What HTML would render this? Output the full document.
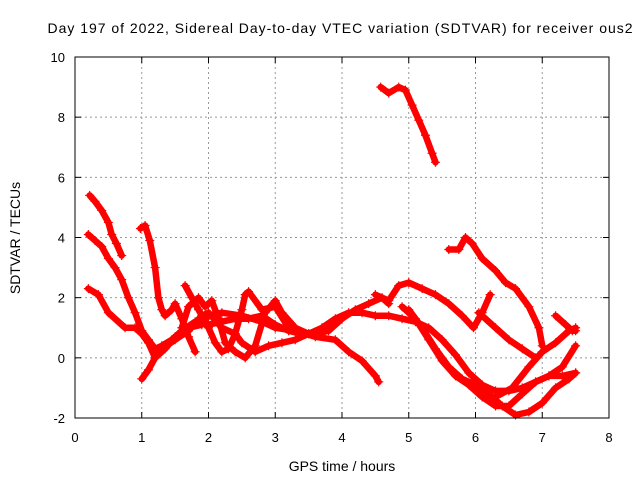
<!DOCTYPE html>
<html><head><meta charset="utf-8"><style>
body{margin:0;background:#fff}
svg{display:block;font-family:"Liberation Sans",sans-serif}
</style></head><body>
<svg id="c" width="640" height="480" xmlns="http://www.w3.org/2000/svg">
<text x="340" y="33" text-anchor="middle" font-size="14" textLength="585">Day 197 of 2022, Sidereal Day-to-day VTEC variation (SDTVAR) for receiver ous2</text>
<text x="342" y="471" text-anchor="middle" font-size="14">GPS time / hours</text>
<text transform="translate(20,238) rotate(-90)" text-anchor="middle" font-size="14">SDTVAR / TECUs</text>
<g id="grid"></g>
<g id="ticks"></g>
<g id="series"></g>
<rect x="75" y="57" width="534" height="361" fill="none" stroke="#000"/>
</svg>
<script>
const xTicks=[0,1,2,3,4,5,6,7,8];
const yTicks=[-2,0,2,4,6,8,10];
const trackA=[[0.22,5.4],[0.3,5.2],[0.4,4.9],[0.5,4.5],[0.55,4.1],[0.62,3.8],[0.7,3.4]];
const trackB=[[0.2,4.1],[0.3,3.9],[0.4,3.7],[0.5,3.3],[0.6,3.0],[0.7,2.6],[0.8,2.0],[0.9,1.5],[1.0,0.9],[1.1,0.6],[1.2,0.3],[1.3,0.4],[1.45,0.6],[1.6,0.9],[1.8,1.2],[2.0,1.1],[2.2,1.2],[2.4,1.3],[2.6,1.3],[2.8,1.4],[3.0,1.1],[3.2,0.9],[3.4,0.8],[3.6,0.8],[3.8,0.9],[4.0,1.3],[4.2,1.6],[4.4,1.8],[4.6,2.0],[4.7,1.8]];
const trackC=[[0.2,2.3],[0.35,2.1],[0.5,1.5],[0.75,1.0],[0.9,1.0],[1.0,0.8],[1.1,0.5],[1.2,0.0],[1.35,0.3],[1.5,0.7],[1.7,1.0],[1.9,1.1],[2.0,1.4],[2.2,1.5],[2.5,1.4],[2.8,1.2],[3.0,1.0],[3.3,0.9],[3.6,0.7],[3.9,0.6],[4.1,0.2],[4.3,-0.1],[4.5,-0.6],[4.55,-0.8]];
const trackD=[[0.98,4.3],[1.05,4.4],[1.12,3.9],[1.2,3.0],[1.25,2.0],[1.3,1.6],[1.35,1.4],[1.45,1.6],[1.5,1.8],[1.6,1.3],[1.7,0.7],[1.8,0.2]];
const trackE=[[1.0,-0.7],[1.1,-0.4],[1.2,0.0],[1.3,0.3],[1.5,0.6],[1.7,0.9],[1.9,1.4],[2.0,1.5],[2.2,1.0],[2.4,0.8],[2.5,0.5],[2.7,0.2],[2.9,0.4],[3.1,0.5],[3.3,0.6],[3.5,0.8],[3.7,1.0],[3.9,1.3],[4.1,1.5],[4.3,1.5],[4.5,1.4],[4.7,1.4],[4.9,1.3],[5.1,1.2],[5.3,1.0],[5.5,0.6],[5.7,0.1],[5.9,-0.5],[6.1,-0.9],[6.3,-1.1],[6.5,-1.1],[6.7,-1.0],[6.9,-0.8],[7.1,-0.6],[7.3,-0.3],[7.5,0.4]];
const trackF=[[1.65,2.4],[1.75,2.0],[1.85,1.6],[2.0,1.0],[2.1,0.5],[2.2,0.2],[2.3,0.3],[2.4,0.8],[2.5,1.6],[2.55,2.1],[2.6,2.2],[2.8,1.6],[3.0,1.7],[3.2,1.0]];
const trackG=[[1.6,1.0],[1.7,1.7],[1.85,2.0],[1.95,1.7],[2.05,1.9],[2.15,1.3],[2.25,0.5],[2.4,0.2],[2.55,0.0],[2.7,0.4],[2.85,1.5],[3.0,1.9],[3.1,1.5],[3.3,1.0],[3.5,0.8]];
const trackH=[[4.58,9.0],[4.7,8.8],[4.85,9.0],[4.95,8.9],[5.05,8.4],[5.15,7.9],[5.25,7.4],[5.35,6.8],[5.4,6.5]];
const trackI=[[5.6,3.6],[5.75,3.6],[5.85,4.0],[5.95,3.8],[6.1,3.3],[6.3,2.9],[6.45,2.5],[6.6,2.3],[6.8,1.7],[6.95,1.0],[7.0,0.4]];
const trackJ=[[4.5,2.1],[4.7,1.9],[4.85,2.4],[5.0,2.5],[5.2,2.3],[5.4,2.1],[5.6,1.8],[5.8,1.4],[5.97,1.0],[6.1,1.5],[6.22,2.1]];
const trackK=[[6.05,1.5],[6.3,1.0],[6.5,0.6],[6.7,0.3],[6.9,0.0]];
const trackL=[[5.0,1.6],[5.2,1.0],[5.4,0.3],[5.6,-0.3],[5.8,-0.7],[6.0,-0.9],[6.2,-1.2],[6.4,-1.6],[6.6,-1.9],[6.8,-1.8],[7.0,-1.5],[7.2,-1.0],[7.4,-0.7],[7.5,-0.5]];
const trackM=[[4.9,1.7],[5.1,1.3],[5.3,0.6],[5.5,-0.1],[5.7,-0.6],[5.9,-0.9],[6.1,-1.3],[6.3,-1.6],[6.5,-1.6],[6.7,-1.2],[6.9,-0.8],[7.1,-0.6],[7.3,-0.6],[7.5,-0.5]];
const trackN=[[6.3,-1.3],[6.55,-1.0],[6.8,-0.3],[7.0,0.2],[7.2,0.5],[7.4,0.9],[7.5,1.0]];
const trackO=[[7.2,1.4],[7.35,1.1],[7.45,0.9],[7.5,0.9]];
const tracks=[trackA,trackB,trackC,trackD,trackE,trackF,trackG,trackH,trackI,trackJ,trackK,trackL,trackM,trackN,trackO];
const NS='http://www.w3.org/2000/svg';
const X0=75,X1=609,Y0=418,Y1=57;
function sx(v){return X0+(v-0)/(8-0)*(X1-X0);}
function sy(v){return Y0-(v+2)/(12)*(Y0-Y1);}
function mk(t,a,p){const e=document.createElementNS(NS,t);for(const k in a)e.setAttribute(k,a[k]);p.appendChild(e);return e;}
const grid=document.getElementById('grid'),ticks=document.getElementById('ticks'),ser=document.getElementById('series');
xTicks.forEach(v=>{const x=sx(v);
 if(v>0&&v<8){const g=mk('line',{x1:x,x2:x,y1:Y1,y2:Y0,stroke:'#999','stroke-dasharray':'2,3'},grid);}
 mk('line',{x1:x,x2:x,y1:Y0,y2:Y0-6,stroke:'#000'},ticks);mk('line',{x1:x,x2:x,y1:Y1,y2:Y1+6,stroke:'#000'},ticks);
 const t=mk('text',{x:x,y:442,'text-anchor':'middle','font-size':13},ticks);t.textContent=v;
 });
yTicks.forEach(v=>{const y=sy(v);
 if(v>-2&&v<10){const g=mk('line',{x1:X0,x2:X1,y1:y,y2:y,stroke:'#999','stroke-dasharray':'2,3'},grid);}
 mk('line',{x1:X0,x2:X0+6,y1:y,y2:y,stroke:'#000'},ticks);mk('line',{x1:X1,x2:X1-6,y1:y,y2:y,stroke:'#000'},ticks);
 const t=mk('text',{x:X0-10,y:y+5,'text-anchor':'end','font-size':13},ticks);t.textContent=v;
 });
tracks.forEach((tr,i)=>{
 const pts=tr.map(p=>sx(p[0]).toFixed(1)+','+sy(p[1]).toFixed(1)).join(' ');
 const pl=mk('polyline',{points:pts,fill:'none',stroke:'#f00','stroke-width':6.5,'stroke-linejoin':'round','stroke-linecap':'round'},ser);
 
 
 tr.forEach(p=>{const x=sx(p[0]),y=sy(p[1]);
  const m=mk('path',{d:`M${x-4.5},${y}h9M${x},${y-4.5}v9`,stroke:'#f00','stroke-width':1.2},ser);
  
  });
});
</script>
</body></html>
